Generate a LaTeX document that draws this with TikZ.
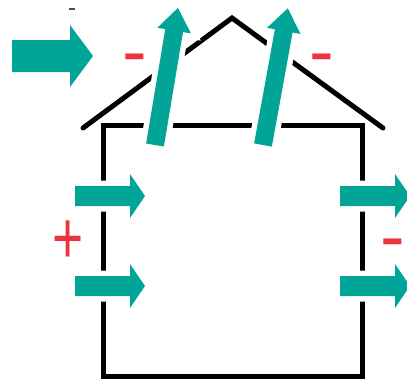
\documentclass[tikz,border=0pt]{standalone}
\usepackage{fontspec}
\setmainfont{Liberation Sans}
\definecolor{flowteal}{RGB}{0,165,152}
\definecolor{signred}{RGB}{236,52,62}
\tikzset{
  wall/.style={line width=5pt, black, line cap=butt, line join=miter},
  arrowfill/.style={fill=flowteal, preaction={draw=white, line width=11pt, line join=miter}},
  sign/.style={text=signred, inner sep=0pt, font=\fontsize{74}{74}\selectfont},
  pics/blockarrow/.style n args={4}{code={
    \path[arrowfill] (0,-#2) -- (#1-#4,-#2) -- (#1-#4,-#3) -- (#1,0)
      -- (#1-#4,#3) -- (#1-#4,#2) -- (0,#2) -- cycle;}}
}
\begin{document}
\begin{tikzpicture}[x=1pt, y=-1pt]
  \useasboundingbox (0,0) rectangle (407,381);
  % house body and roof
  \draw[wall] (103,125) -- (103,376) -- (362,376) -- (362,125) -- cycle;
  \draw[wall, line cap=round] (83,128) -- (232,18) -- (383,128);
  % small mark at the top left
  \draw[line width=1.2pt, black!70] (69,9) -- (75,9);
  % wind arrow
  \pic at (12,56) {blockarrow={81}{16}{31}{23}};
  % air leaving through the roof
  \pic[rotate=80.5] at (155,145) {blockarrow={139}{9}{17}{23}};
  \pic[rotate=79.7] at (263,145) {blockarrow={139}{9}{17}{23}};
  % air through the walls
  \pic at (75,196) {blockarrow={70}{10}{22}{15}};
  \pic at (75,286) {blockarrow={70}{10}{22}{15}};
  \pic at (340,196) {blockarrow={70}{10}{22}{15}};
  \pic at (340,286) {blockarrow={70}{10}{22}{15}};
  % pressure signs
  \node[sign, xscale=0.72] (plus) at (68,242) {+};
  \node[sign] (minusA) at (135,65) {-};
  \node[sign] (minusB) at (322,65) {-};
  \node[sign] (minusC) at (393,250) {-};
\end{tikzpicture}
\end{document}
